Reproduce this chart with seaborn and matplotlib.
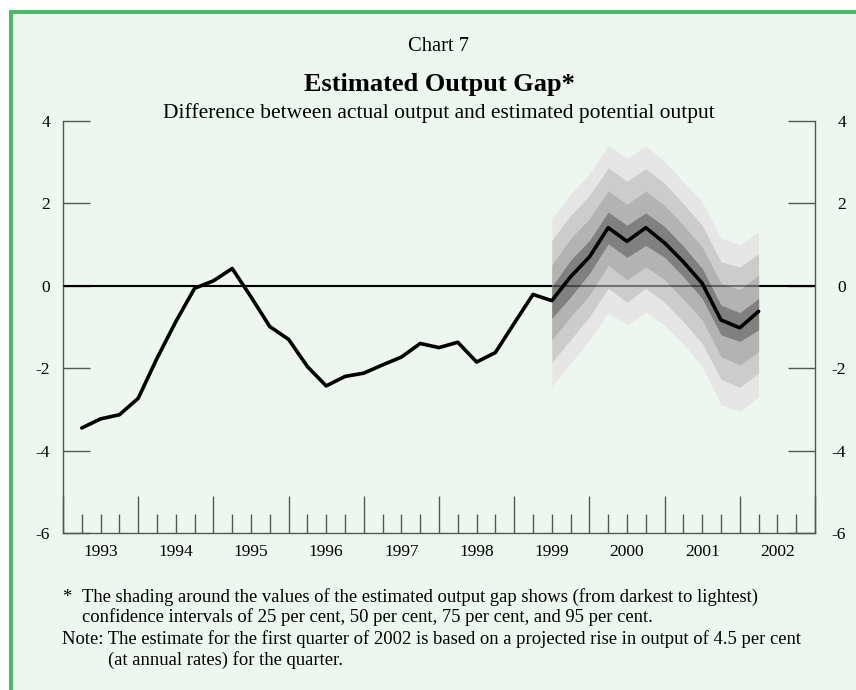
import numpy as np
import pandas as pd
import seaborn as sns
import matplotlib.pyplot as plt
from matplotlib.lines import Line2D
from matplotlib.patches import Rectangle
from matplotlib.transforms import ScaledTranslation
from matplotlib.ticker import FixedLocator, FixedFormatter


# output gap, quarterly 1993Q1 - 2002Q1
quarters = pd.period_range('1993Q1', '2002Q1', freq='Q')
gap = [-3.45, -3.23, -3.13, -2.73,
       -1.76, -0.87, -0.06, 0.12,
       0.42, -0.27, -0.99, -1.30,
       -1.96, -2.43, -2.20, -2.12,
       -1.92, -1.73, -1.40, -1.50,
       -1.37, -1.85, -1.62, -0.91,
       -0.21, -0.36, 0.22, 0.70,
       1.41, 1.08, 1.41, 1.04,
       0.58, 0.06, -0.83, -1.02,
       -0.62]

# confidence bands around the estimate, 1999Q2 - 2002Q1
fan_quarters = pd.period_range('1999Q2', '2002Q1', freq='Q')
ci95_hi = [1.63, 2.23, 2.72, 3.40, 3.10, 3.39, 3.02, 2.52, 2.03, 1.16, 1.00, 1.31]
ci95_lo = [-2.44, -1.88, -1.31, -0.65, -0.95, -0.65, -0.95, -1.41, -1.96, -2.89, -3.05, -2.69]
ci75_hi = [1.10, 1.71, 2.19, 2.86, 2.54, 2.84, 2.49, 1.99, 1.47, 0.58, 0.46, 0.78]
ci75_lo = [-1.86, -1.31, -0.75, -0.06, -0.40, -0.06, -0.40, -0.87, -1.40, -2.27, -2.46, -2.12]
ci50_hi = [0.50, 1.15, 1.63, 2.30, 1.98, 2.30, 1.95, 1.47, 0.94, 0.06, -0.09, 0.26]
ci50_lo = [-1.31, -0.75, -0.23, 0.50, 0.14, 0.46, 0.15, -0.33, -0.83, -1.72, -1.92, -1.60]
ci25_hi = [-0.02, 0.62, 1.10, 1.79, 1.47, 1.77, 1.44, 0.96, 0.42, -0.47, -0.65, -0.31]
ci25_lo = [-0.79, -0.27, 0.30, 1.02, 0.69, 0.98, 0.69, 0.22, -0.31, -1.19, -1.35, -1.07]

years = list(range(1993, 2003))
y_ticks = [-6, -4, -2, 0, 2, 4]

bg = '#edf7f0'
green = '#4dba6b'
axis_grey = '#555555'
band_colours = ['#e6e6e6', '#cccccc', '#b3b3b3', '#808080']

sns.set_theme(style='white')
plt.rcParams['font.family'] = ['Liberation Serif', 'DejaVu Serif']
plt.rcParams['axes.unicode_minus'] = False
plt.rcParams['text.color'] = 'black'


def qpos(periods):
    # each quarter is plotted at the end of the quarter
    return np.asarray(periods.year + periods.quarter / 4, dtype=float)


fig = plt.figure(figsize=(8.56, 6.9), dpi=100)
fig.patch.set_facecolor('white')

# mint panel with the green frame on the left and top
fig.add_artist(Rectangle((11 / 856, 0), 1, 678 / 690, transform=fig.transFigure,
                         facecolor=bg, edgecolor='none', zorder=-5))
fig.add_artist(Line2D([11 / 856, 11 / 856], [0, 678 / 690], transform=fig.transFigure,
                      color=green, lw=2.9, solid_capstyle='projecting', zorder=-4))
fig.add_artist(Line2D([11 / 856, 1], [678 / 690, 678 / 690], transform=fig.transFigure,
                      color=green, lw=2.9, solid_capstyle='projecting', zorder=-4))

ax = fig.add_axes([63 / 856, 157 / 690, 752 / 856, 412 / 690])
ax.set_facecolor('none')

df = pd.DataFrame({'date': qpos(quarters), 'gap': gap})
fx = qpos(fan_quarters)

ax.axhline(0, color='black', lw=1.5, zorder=1)
bands = [(ci95_lo, ci95_hi), (ci75_lo, ci75_hi), (ci50_lo, ci50_hi), (ci25_lo, ci25_hi)]
for (lo, hi), col in zip(bands, band_colours):
    ax.fill_between(fx, lo, hi, color=col, lw=0, zorder=2)
# zero line shows faintly through the fan
ax.axhline(0, color='black', lw=1.5, alpha=0.45, zorder=3)

sns.lineplot(data=df, x='date', y='gap', color='black', lw=2.6, ax=ax, zorder=5)

ax.set_xlim(1993, 2003)
ax.set_ylim(-6, 4)
ax.set_xlabel('')
ax.set_ylabel('')

for side in ['left', 'right', 'bottom']:
    ax.spines[side].set_color(axis_grey)
    ax.spines[side].set_linewidth(1.0)
    ax.spines[side].set_visible(True)
ax.spines['top'].set_visible(False)

# year boundaries as long ticks, quarters as short ones, year names mid-year
ax.xaxis.set_major_locator(FixedLocator(years + [2003]))
ax.xaxis.set_major_formatter(FixedFormatter([''] * (len(years) + 1)))
minor_pos = [y + q for y in years for q in (0.25, 0.5, 0.75)]
minor_lab = [str(y) if q == 0.5 else '' for y in years for q in (0.25, 0.5, 0.75)]
ax.xaxis.set_minor_locator(FixedLocator(minor_pos))
ax.xaxis.set_minor_formatter(FixedFormatter(minor_lab))
ax.tick_params(axis='x', which='major', direction='in', length=27, width=1,
               color=axis_grey, bottom=True)
ax.tick_params(axis='x', which='minor', direction='in', length=13.7, width=1,
               color=axis_grey, bottom=True, labelsize=12.5, pad=8, labelcolor='black')

ax.set_yticks(y_ticks)
ax.set_yticklabels([str(v) for v in y_ticks])
ax.tick_params(axis='y', which='major', direction='in', length=19.5, width=1,
               color=axis_grey, left=True, right=True, labelleft=True, labelright=True,
               labelsize=12.5, labelcolor='black', pad=9.4)
ax.grid(False)

# right labels are right-aligned a bit further out
offset = ScaledTranslation((22.3 - 9.4) / 72, 0, fig.dpi_scale_trans)
for t in ax.yaxis.get_major_ticks():
    t.label2.set_horizontalalignment('right')
    t.label2.set_transform(t.label2.get_transform() + offset)

fig.text(439 / 856, 1 - 51 / 690, 'Chart 7', ha='center', va='baseline', fontsize=14.8)
fig.text(439 / 856, 1 - 91.5 / 690, 'Estimated Output Gap*', ha='center', va='baseline',
         fontsize=19, fontweight='bold')
fig.text(439 / 856, 1 - 118.3 / 690,
         'Difference between actual output and estimated potential output',
         ha='center', va='baseline', fontsize=15.5)

notes = [
    (62.5, 601.7, '*'),
    (81.5, 601.7, 'The shading around the values of the estimated output gap shows (from darkest to lightest)'),
    (81.5, 621.7, 'confidence intervals of 25 per cent, 50 per cent, 75 per cent, and 95 per cent.'),
    (62, 644, 'Note: The estimate for the first quarter of 2002 is based on a projected rise in output of 4.5 per cent'),
    (108, 665, '(at annual rates) for the quarter.'),
]
for x, y, s in notes:
    fig.text(x / 856, 1 - y / 690, s, ha='left', va='baseline', fontsize=13.4)

fig.savefig('out.png', dpi=100, facecolor=fig.get_facecolor())
